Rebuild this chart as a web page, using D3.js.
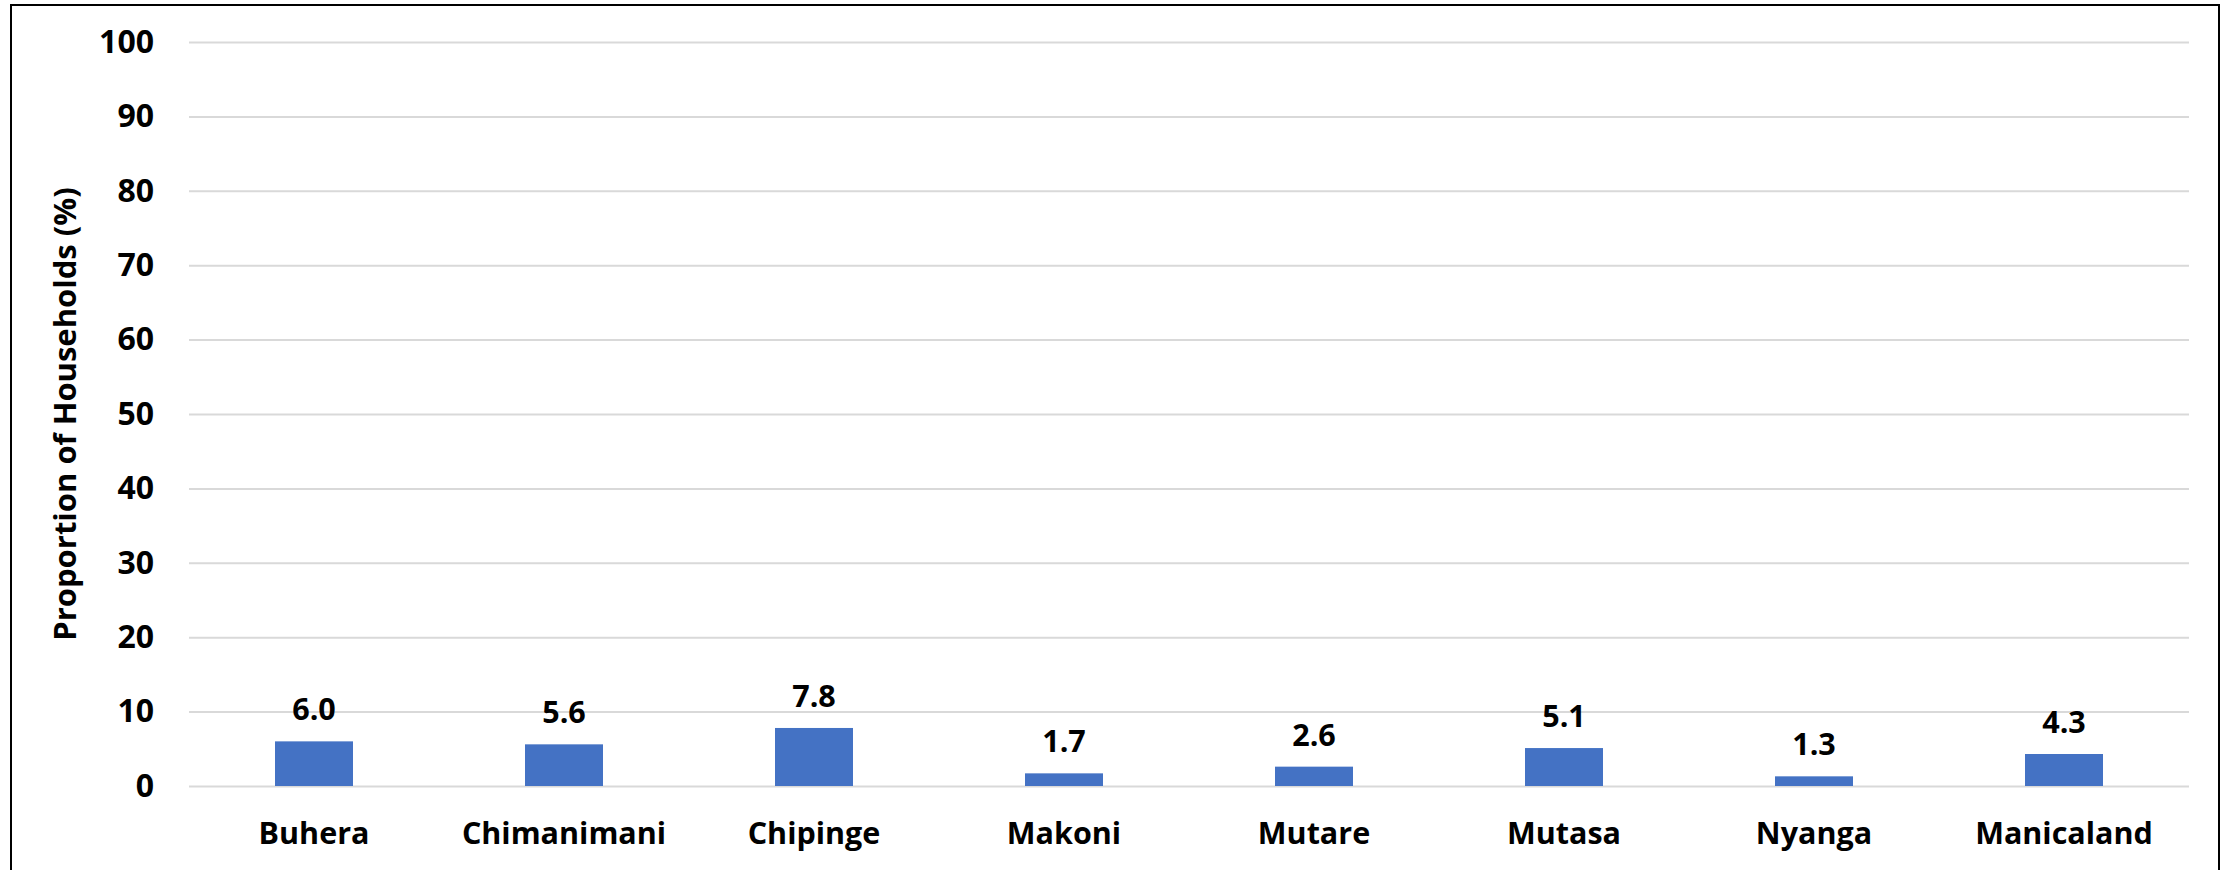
<!DOCTYPE html>
<html>
<head>
<meta charset="utf-8">
<script src="https://cdn.jsdelivr.net/npm/d3@7"></script>
<style>
  html, body { margin: 0; padding: 0; background: #fff; }
  svg { display: block; }
  text { font-family: "Open Sans", "Noto Sans", sans-serif; font-weight: bold; fill: #000; }
</style>
</head>
<body>
<svg id="chart" width="2231" height="870"></svg>
<script>
// Households by district, Manicaland
const districts = ["Buhera", "Chimanimani", "Chipinge", "Makoni", "Mutare", "Mutasa", "Nyanga", "Manicaland"];
const proportions = [6.0, 5.6, 7.8, 1.7, 2.6, 5.1, 1.3, 4.3];
const yTicks = [0, 10, 20, 30, 40, 50, 60, 70, 80, 90, 100];
const yTitle = "Proportion of Households (%)";

const W = 2231, H = 870;
const plot = { left: 189, right: 2189, top: 42, bottom: 786 };

const svg = d3.select("#chart");

// outer frame of the chart area
svg.append("rect")
  .attr("x", 11).attr("y", 5)
  .attr("width", 2208).attr("height", 900)
  .attr("fill", "none")
  .attr("stroke", "#000")
  .attr("stroke-width", 2);

const x = d3.scaleBand()
  .domain(districts)
  .range([plot.left, plot.right])
  .paddingInner(0.688)
  .paddingOuter(0.344);

const y = d3.scaleLinear()
  .domain([0, 100])
  .range([plot.bottom, plot.top]);

// horizontal gridlines with value labels
const yAxis = d3.axisLeft(y)
  .tickValues(yTicks)
  .tickSize(-(plot.right - plot.left))
  .tickPadding(35)
  .tickFormat(d3.format("d"));

const gy = svg.append("g")
  .attr("transform", `translate(${plot.left},0)`)
  .call(yAxis);
gy.select(".domain").remove();
gy.selectAll(".tick line")
  .attr("stroke", "#d9d9d9")
  .attr("stroke-width", 2);
gy.selectAll(".tick text")
  .attr("font-size", 32)
  .attr("font-family", "'Open Sans', 'Noto Sans', sans-serif")
  .attr("font-weight", "bold")
  .attr("fill", "#000");

// category labels along the bottom
const xAxis = d3.axisBottom(x).tickSize(0).tickPadding(36);
const gx = svg.append("g")
  .attr("transform", `translate(0,${plot.bottom})`)
  .call(xAxis);
gx.select(".domain").remove();
gx.selectAll(".tick text")
  .attr("font-size", 30.5)
  .attr("font-family", "'Open Sans', 'Noto Sans', sans-serif")
  .attr("font-weight", "bold")
  .attr("fill", "#000");

// bars
const data = districts.map((d, i) => ({ name: d, value: proportions[i] }));
svg.append("g")
  .selectAll("rect")
  .data(data)
  .join("rect")
  .attr("x", d => x(d.name))
  .attr("y", d => y(d.value))
  .attr("width", x.bandwidth())
  .attr("height", d => y(0) - y(d.value))
  .attr("fill", "#4472C4");

// value labels above bars
svg.append("g")
  .selectAll("text")
  .data(data)
  .join("text")
  .attr("x", d => x(d.name) + x.bandwidth() / 2)
  .attr("y", d => y(d.value) - 21)
  .attr("text-anchor", "middle")
  .attr("font-size", 30.5)
  .text(d => d3.format(".1f")(d.value));

// y-axis title
svg.append("text")
  .attr("transform", `translate(76,${(plot.top + plot.bottom) / 2}) rotate(-90)`)
  .attr("text-anchor", "middle")
  .attr("font-size", 31)
  .text(yTitle);
</script>
</body>
</html>
